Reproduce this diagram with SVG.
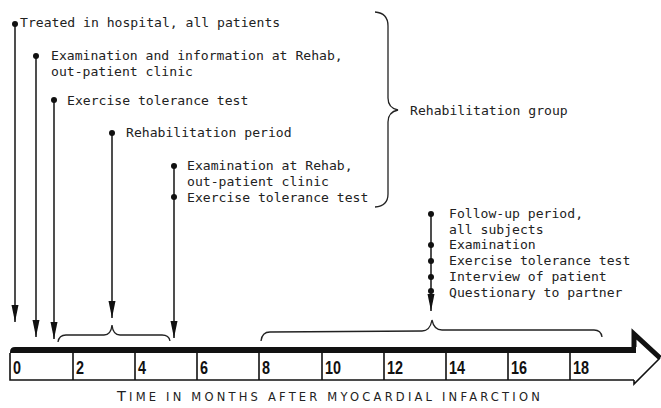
<svg xmlns="http://www.w3.org/2000/svg" width="661" height="408" viewBox="0 0 661 408">
<defs>
<marker id="ah" markerUnits="userSpaceOnUse" markerWidth="18" markerHeight="8" viewBox="0 -4 18 8" refX="17" refY="0" orient="auto">
<path d="M0,-3.5 L17,0 L0,3.5 Z" fill="#111"/>
</marker>
</defs>
<style>
.t{font-family:"DejaVu Sans Mono","Liberation Mono",monospace;font-size:13.1px;fill:#222}
.ln{stroke:#222;stroke-width:1.6;fill:none}
.dot{fill:#111}
.br{stroke:#222;stroke-width:1.3;fill:none}
.num{font-family:"Liberation Sans",Arial,sans-serif;font-weight:bold;font-size:18px;fill:#111}
.cap{font-family:"DejaVu Sans","Liberation Sans",sans-serif;fill:#222;letter-spacing:3.2px}
</style>
<rect width="661" height="408" fill="#fff"/>

<g id="connectors">
<line class="ln" x1="15" y1="24" x2="15" y2="322" marker-end="url(#ah)"/>
<line class="ln" x1="36" y1="56" x2="36" y2="337" marker-end="url(#ah)"/>
<line class="ln" x1="54" y1="100" x2="54" y2="339" marker-end="url(#ah)"/>
<line class="ln" x1="112" y1="133" x2="112" y2="318" marker-end="url(#ah)"/>
<line class="ln" x1="174" y1="165" x2="174" y2="338" marker-end="url(#ah)"/>
<line class="ln" x1="431" y1="214" x2="431" y2="311" marker-end="url(#ah)"/>
</g>

<g id="n-hospital">
<circle class="dot" cx="15" cy="24" r="3"/>
<text class="t" x="20" y="27">Treated in hospital, all patients</text>
</g>
<g id="n-exam-info">
<circle class="dot" cx="36" cy="56" r="3"/>
<text class="t" x="51" y="60">Examination and information at Rehab,</text>
<text class="t" x="51" y="76">out-patient clinic</text>
</g>
<g id="n-ett1">
<circle class="dot" cx="54" cy="100" r="3"/>
<text class="t" x="67" y="105">Exercise tolerance test</text>
</g>
<g id="n-rehab-period">
<circle class="dot" cx="112" cy="133" r="3"/>
<text class="t" x="126" y="137">Rehabilitation period</text>
</g>
<g id="n-exam-rehab">
<circle class="dot" cx="174" cy="166" r="3"/>
<circle class="dot" cx="174" cy="197" r="3"/>
<text class="t" x="187" y="170">Examination at Rehab,</text>
<text class="t" x="187" y="186">out-patient clinic</text>
<text class="t" x="187" y="202">Exercise tolerance test</text>
</g>
<g id="n-rehab-group">
<path class="br" d="M375,12 Q388,13 388,26 L388,98 Q388,108 398,110 Q388,112 388,122 L388,194 Q388,206 375,207"/>
<text class="t" x="410" y="115">Rehabilitation group</text>
</g>
<g id="n-followup">
<circle class="dot" cx="431" cy="214" r="3"/>
<circle class="dot" cx="431" cy="245" r="3"/>
<circle class="dot" cx="431" cy="261" r="3"/>
<circle class="dot" cx="431" cy="277" r="3"/>
<circle class="dot" cx="431" cy="291" r="3"/>
<text class="t" x="449" y="218">Follow-up period,</text>
<text class="t" x="449" y="234">all subjects</text>
<text class="t" x="449" y="249">Examination</text>
<text class="t" x="449" y="265">Exercise tolerance test</text>
<text class="t" x="449" y="281">Interview of patient</text>
<text class="t" x="449" y="297">Questionary to partner</text>
</g>

<g id="braces">
<path class="br" d="M58,342 Q59,335 66,335 L104,335 Q111,335 112,325 Q113,335 120,335 L162,335 Q169,335 170,341"/>
<path class="br" d="M261,341 Q262,332 270,332 L422,331 Q430,331 432,320 Q434,330 442,330 L594,330 Q601,330 602,337"/>
</g>

<g id="timeline">
<path d="M10,353 L10,352 Q10,347 15,347 L636,347 L636,353 Z" fill="#111"/>
<path d="M10,353 L10,380 L634,380" stroke="#111" stroke-width="1.6" fill="none"/>
<path d="M634,347 L634,334 L660,358" stroke="#111" stroke-width="5" fill="none" stroke-linejoin="miter"/>
<path d="M660,358 L634,384 L634,380" stroke="#111" stroke-width="1.6" fill="none"/>
<g stroke="#111" stroke-width="1.6">
<line x1="73" y1="353" x2="73" y2="380"/>
<line x1="135" y1="353" x2="135" y2="380"/>
<line x1="197" y1="353" x2="197" y2="380"/>
<line x1="259" y1="353" x2="259" y2="380"/>
<line x1="322" y1="353" x2="322" y2="380"/>
<line x1="384" y1="353" x2="384" y2="380"/>
<line x1="446" y1="353" x2="446" y2="380"/>
<line x1="508" y1="353" x2="508" y2="380"/>
<line x1="570" y1="353" x2="570" y2="380"/>
</g>
<text class="num" x="13" y="374" transform="translate(13 0) scale(0.8 1) translate(-13 0)">0</text>
<text class="num" x="76" y="374" transform="translate(76 0) scale(0.8 1) translate(-76 0)">2</text>
<text class="num" x="138" y="374" transform="translate(138 0) scale(0.8 1) translate(-138 0)">4</text>
<text class="num" x="200" y="374" transform="translate(200 0) scale(0.8 1) translate(-200 0)">6</text>
<text class="num" x="262" y="374" transform="translate(262 0) scale(0.8 1) translate(-262 0)">8</text>
<text class="num" x="325" y="374" transform="translate(325 0) scale(0.8 1) translate(-325 0)">10</text>
<text class="num" x="387" y="374" transform="translate(387 0) scale(0.8 1) translate(-387 0)">12</text>
<text class="num" x="449" y="374" transform="translate(449 0) scale(0.8 1) translate(-449 0)">14</text>
<text class="num" x="511" y="374" transform="translate(511 0) scale(0.8 1) translate(-511 0)">16</text>
<text class="num" x="573" y="374" transform="translate(573 0) scale(0.8 1) translate(-573 0)">18</text>
</g>

<text class="cap" x="117" y="401" font-size="11.5"><tspan font-size="14.5">T</tspan>IME IN MONTHS AFTER MYOCARDIAL INFARCTION</text>
</svg>
